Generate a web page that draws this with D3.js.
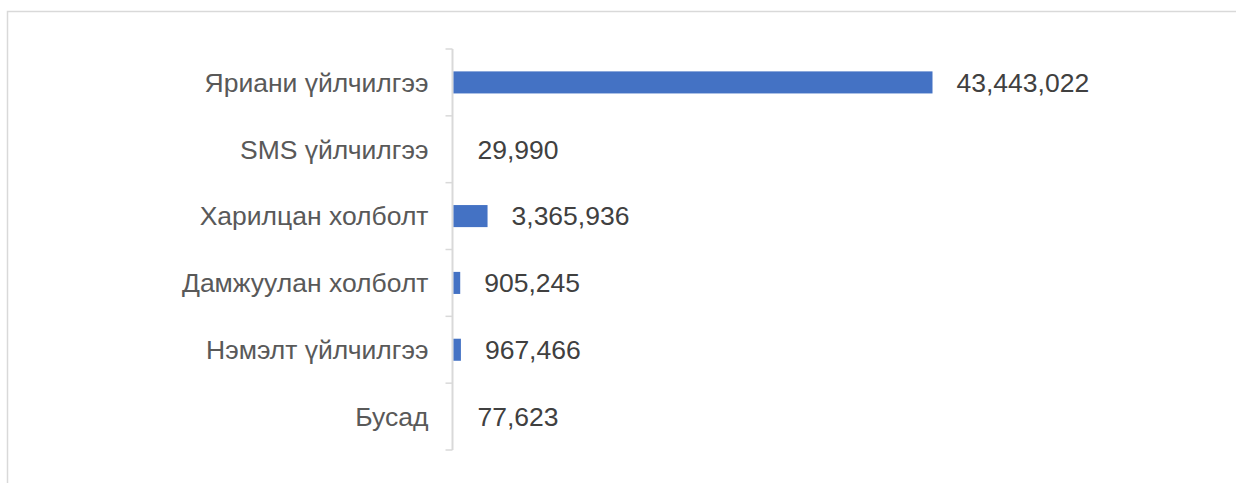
<!DOCTYPE html>
<html>
<head>
<meta charset="utf-8">
<script src="https://cdn.jsdelivr.net/npm/d3@7"></script>
<style>
  body { margin: 0; background: #fff; }
  svg { display: block; }
</style>
</head>
<body>
<div class="canva"></div>
<script>
// chart data
const categories = ['Яриани үйлчилгээ', 'SMS үйлчилгээ', 'Харилцан холболт', 'Дамжуулан холболт', 'Нэмэлт үйлчилгээ', 'Бусад'];
const values = [43443022, 29990, 3365936, 905245, 967466, 77623];

const W = 1236, H = 483;

const svg = d3.select('.canva').append('svg')
    .attr('width', W)
    .attr('height', H);

// frame (top + left border)
svg.append('path')
    .attr('d', `M7.5,${H} V11.5 H${W}`)
    .attr('fill', 'none')
    .attr('stroke', '#d9d9d9')
    .attr('stroke-width', 1.5);

const axisX = 452.5;

// x axis min is above zero in the original, tiny bars vanish
const x = d3.scaleLinear()
    .domain([300000, 50000000])
    .range([axisX + 1, axisX + 1 + 551.8])
    .clamp(true);

const y = d3.scaleBand()
    .domain(categories)
    .range([49, 450])
    .paddingInner(0.67)
    .paddingOuter(0.335);

// category labels
const yAxis = svg.append('g')
    .attr('transform', `translate(${axisX},0)`)
    .call(d3.axisLeft(y).tickSize(0).tickPadding(24));
yAxis.select('.domain').remove();
yAxis.selectAll('text')
    .attr('fill', '#595959')
    .attr('font-family', 'Liberation Sans, Arial, sans-serif')
    .attr('font-size', 26.5)
    .attr('dy', '0.35em');

// axis line with ticks between categories
const bounds = d3.range(categories.length + 1).map(i => y.range()[0] + i * y.step());
svg.append('line')
    .attr('x1', axisX).attr('x2', axisX)
    .attr('y1', bounds[0]).attr('y2', bounds[bounds.length - 1])
    .attr('stroke', '#d9d9d9')
    .attr('stroke-width', 2);
svg.selectAll('.tk').data(bounds).enter().append('line')
    .attr('x1', axisX - 7).attr('x2', axisX)
    .attr('y1', d => d).attr('y2', d => d)
    .attr('stroke', '#d9d9d9')
    .attr('stroke-width', 1.5);

// bars
svg.selectAll('.bar').data(values).enter().append('rect')
    .attr('x', x.range()[0])
    .attr('y', (d, i) => y(categories[i]))
    .attr('width', d => x(d) - x.range()[0])
    .attr('height', y.bandwidth())
    .attr('fill', '#4472c4');

// value labels
svg.selectAll('.lbl').data(values).enter().append('text')
    .text(d => d3.format(',')(d))
    .attr('x', d => x(d) + 24)
    .attr('y', (d, i) => y(categories[i]) + y.bandwidth() / 2)
    .attr('dy', '0.35em')
    .attr('fill', '#404040')
    .attr('font-family', 'Liberation Sans, Arial, sans-serif')
    .attr('font-size', 26.5);
</script>
</body>
</html>
